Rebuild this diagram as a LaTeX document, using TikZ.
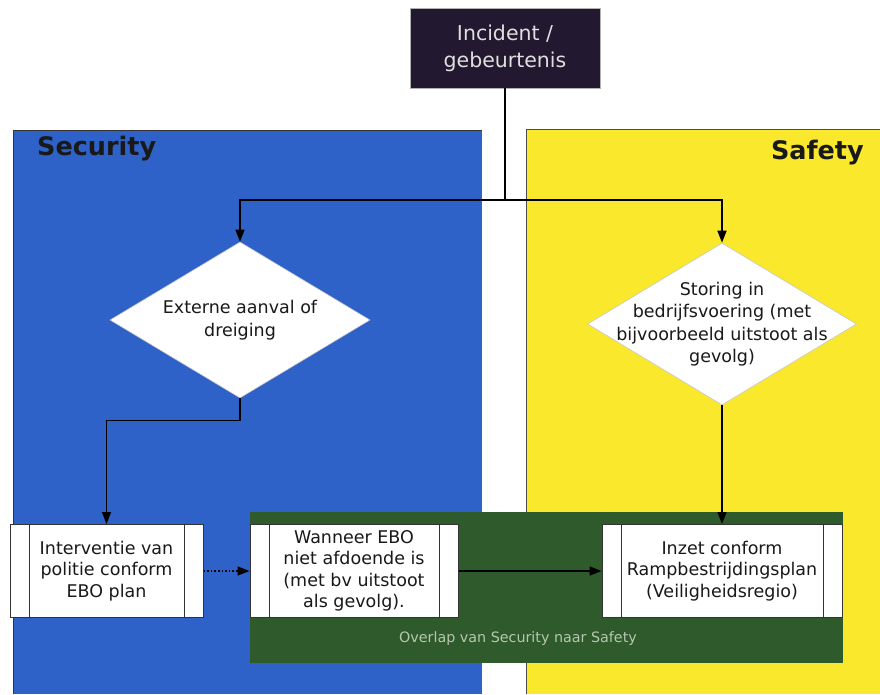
\documentclass[tikz,border=0pt]{standalone}
\usepackage{fontspec}
\setmainfont{DejaVu Sans}
\usetikzlibrary{shapes.geometric,arrows.meta,calc}
\definecolor{secblue}{HTML}{2F62C8}
\definecolor{safyellow}{HTML}{FAE82C}
\definecolor{ovgreen}{HTML}{2F5A2C}
\definecolor{incdark}{HTML}{221830}
\definecolor{ovtext}{HTML}{B5C7B0}
\definecolor{edge}{HTML}{333333}
\begin{document}
\begin{tikzpicture}[x=1pt,y=-1pt,
  conn/.style={line width=1.6pt, draw=black, -{Triangle[length=12pt,width=9pt]}},
  plain/.style={line width=1.6pt, draw=black},
  dia/.style={diamond, fill=white, draw=gray!45, line width=0.6pt, inner sep=0pt},
  dtext/.style={align=center, text=black!90, font=\fontsize{17.5}{22.5}\selectfont, inner sep=0pt},
  proc/.style={rectangle, fill=white, draw=edge, line width=1pt, inner sep=0pt, align=center,
     text=black!90, font=\fontsize{17.5}{21.5}\selectfont,
     path picture={\draw[edge, line width=1pt]
        ([xshift=19pt]path picture bounding box.north west) -- ([xshift=19pt]path picture bounding box.south west)
        ([xshift=-19pt]path picture bounding box.north east) -- ([xshift=-19pt]path picture bounding box.south east);}},
  incbox/.style={rectangle, fill=incdark, draw=gray!60, line width=0.6pt, inner sep=0pt, align=center,
     text=gray!25, font=\fontsize{20.5}{27}\selectfont},
  paneltitle/.style={font=\bfseries\fontsize{25.5}{28}\selectfont, text=black!90, inner sep=0pt}
]
\useasboundingbox (0,0) rectangle (880,694);
\fill[white] (0,0) rectangle (880,694);
% panels
\fill[secblue] (13,130) rectangle (482,694);
\draw[edge, line width=0.8pt] (13,694) -- (13,130) -- (482,130);
\fill[safyellow] (526,129) rectangle (880,694);
\draw[gray!60!black, line width=0.8pt] (526,694) -- (526,129) -- (880,129);
\node[paneltitle, anchor=west] (sec) at (37,149) {Security};
\node[paneltitle, anchor=east] (saf) at (864,153) {Safety};
% incident
\node[incbox, minimum width=190pt, minimum height=80pt] (inc) at (505,48) {Incident /\\gebeurtenis};
% overlap
\node[fill=ovgreen, minimum width=593pt, minimum height=151pt, inner sep=0pt] (ov) at (546.5,587.5) {};
\node[text=ovtext, font=\fontsize{14.3}{16}\selectfont, inner sep=0pt] (ovt) at (518,639) {Overlap van Security naar Safety};
% diamonds
\node[dia, minimum width=260pt, minimum height=156pt] (d1) at (240,320) {};
\node[dtext] (t1) at (d1.center) {Externe aanval of\\dreiging};
\node[dia, minimum width=269pt, minimum height=162pt] (d2) at (722,324) {};
\node[dtext] (t2) at (d2.center) {Storing in\\bedrijfsvoering (met\\bijvoorbeeld uitstoot als\\gevolg)};
% process boxes
\node[proc, minimum width=193pt, minimum height=93pt] (b1) at (106.5,571) {Interventie van\\politie conform\\EBO plan};
\node[proc, minimum width=208pt, minimum height=93pt] (b2) at (354,571) {Wanneer EBO\\niet afdoende is\\(met bv uitstoot\\als gevolg).};
\node[proc, minimum width=240pt, minimum height=93pt] (b3) at (722,571) {Inzet conform\\Rampbestrijdingsplan\\(Veiligheidsregio)};
% connectors
\draw[plain] (inc.south) -- (inc.south |- 0,200) coordinate (split);
\draw[conn] (split) -| (d1.north);
\draw[conn] (split) -| (d2.north);
\draw[conn] (d1.south) -- ++(0,22) -| (b1.north);
\draw[conn] (d2.south) -- (d2.south |- b3.north);
\draw[conn, dotted] (b1.east) -- (b2.west);
\draw[conn] (b2.east) -- (b3.west);
\end{tikzpicture}
\end{document}
